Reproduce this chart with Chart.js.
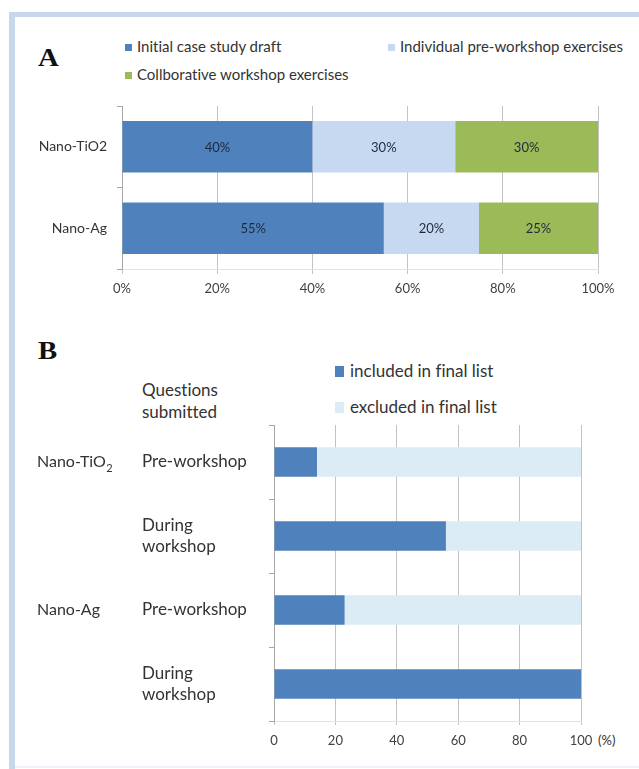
<!DOCTYPE html>
<html><head><meta charset="utf-8">
<script src="https://cdn.jsdelivr.net/npm/chart.js@4.4.1/dist/chart.umd.min.js"></script>
<style>
html,body{margin:0;padding:0;background:#fff;width:639px;height:769px;overflow:hidden;font-family:Lato,'Open Sans',sans-serif;font-variant-ligatures:none;}
.band{position:absolute;background:#c9d7ee;}
.letter{position:absolute;font-family:'Liberation Serif','DejaVu Serif',serif;font-weight:bold;font-size:25px;line-height:25px;color:#111;transform:scaleX(1.15);transform-origin:left top;}
.leg{position:absolute;color:#333;white-space:nowrap;}
.leg i{display:inline-block;vertical-align:middle;}
.legA{font-size:15px;line-height:18px;}
.legA i{width:7px;height:7px;margin-right:5px;margin-top:-2px;}
.legB{font-size:17px;line-height:20px;}
.legB i{width:9px;height:11px;margin-right:6px;margin-top:-2px;}
.txt{position:absolute;color:#333;white-space:nowrap;}
.box{position:absolute;left:0;width:639px;}
</style></head>
<body>
<div class="band" style="left:9px;top:12px;width:630px;height:5px;"></div>
<div class="band" style="left:9px;top:12px;width:6px;height:757px;"></div>
<div class="band" style="left:15px;top:766px;width:624px;height:2px;background:#eef2fa;"></div>

<div class="letter" style="left:38px;top:45px;">A</div>
<div class="letter" style="left:38px;top:338px;">B</div>

<div class="leg legA" style="left:125px;top:37px;"><i style="background:#4f81bd"></i>Initial case study draft</div>
<div class="leg legA" style="left:388px;top:37px;"><i style="background:#c6d9f0"></i>Individual pre-workshop exercises</div>
<div class="leg legA" style="left:125px;top:65px;"><i style="background:#9bbb59"></i>Collborative workshop exercises</div>

<div class="leg legB" style="left:335px;top:361px;"><i style="background:#4f81bd"></i>included in final list</div>
<div class="leg legB" style="left:335px;top:397px;"><i style="background:#dbecf4"></i>excluded in final list</div>

<div class="txt" style="left:142px;top:379px;font-size:17px;line-height:22px;">Questions<br>submitted</div>
<div class="txt" style="left:598px;top:732px;font-size:13px;line-height:16px;">(%)</div>

<div class="box" style="top:0;height:310px;"><canvas id="cA"></canvas></div>
<div class="box" style="top:310px;height:459px;"><canvas id="cB"></canvas></div>

<script>
// ---- Panel A data ----
const catsA = ['Nano-TiO2', 'Nano-Ag'];
const seriesA = ['Initial case study draft', 'Individual pre-workshop exercises', 'Collborative workshop exercises'];
const initialA = [40, 55];
const individualA = [30, 20];
const collabA = [30, 25];
const ticksA = ['0%', '20%', '40%', '60%', '80%', '100%'];

// ---- Panel B data ----
const catsB = [['Pre-workshop'], ['During', 'workshop'], ['Pre-workshop'], ['During', 'workshop']];
const groupsB = ['Nano-TiO₂', '', 'Nano-Ag', ''];
const seriesB = ['included in final list', 'excluded in final list'];
const includedB = [14, 56, 23, 100];
const excludedB = [86, 44, 77, 0];
const ticksB = ['0', '20', '40', '60', '80', '100'];

const FONT = "Lato, 'Open Sans', sans-serif";

const barLabels = {
  id: 'barLabels',
  afterDatasetsDraw(chart, args, opts) {
    if (!opts || !opts.show) return;
    const ctx = chart.ctx;
    ctx.save();
    ctx.font = '13px ' + FONT;
    ctx.fillStyle = '#1e2b3c';
    ctx.textAlign = 'center';
    ctx.textBaseline = 'middle';
    chart.data.datasets.forEach((ds, i) => {
      const meta = chart.getDatasetMeta(i);
      meta.data.forEach((el, j) => {
        const p = el.getProps(['x', 'y', 'base'], true);
        ctx.fillText(ds.data[j] + '%', (p.x + p.base) / 2, p.y + 1);
      });
    });
    ctx.restore();
  }
};

const groupLabels = {
  id: 'groupLabels',
  afterDraw(chart, args, opts) {
    if (!opts || !opts.labels) return;
    const ctx = chart.ctx;
    const ys = chart.scales.y;
    ctx.save();
    ctx.fillStyle = '#333';
    ctx.textBaseline = 'middle';
    ctx.textAlign = 'left';
    opts.labels.forEach((lab, i) => {
      if (!lab) return;
      const y = ys.getPixelForValue(i);
      let x = opts.x;
      if (lab.endsWith('₂')) {
        const base = lab.slice(0, -1);
        ctx.font = '16px ' + FONT;
        ctx.fillText(base, x, y);
        x += ctx.measureText(base).width;
        ctx.font = '11px ' + FONT;
        ctx.fillText('2', x + 0.5, y + 6);
      } else {
        ctx.font = '16px ' + FONT;
        ctx.fillText(lab, x, y);
      }
    });
    ctx.restore();
  }
};

const GRID = '#c2c2c2';

new Chart(document.getElementById('cA'), {
  type: 'bar',
  data: {
    labels: catsA,
    datasets: [
      { label: seriesA[0], data: initialA, backgroundColor: '#4f81bd' },
      { label: seriesA[1], data: individualA, backgroundColor: '#c6d9f0' },
      { label: seriesA[2], data: collabA, backgroundColor: '#9bbb59' }
    ]
  },
  options: {
    indexAxis: 'y',
    responsive: true,
    maintainAspectRatio: false,
    animation: false,
    layout: { padding: { top: 106, right: 41, left: 0, bottom: 0 } },
    datasets: { bar: { categoryPercentage: 1, barPercentage: 0.63, borderWidth: 0 } },
    plugins: { legend: { display: false }, tooltip: { enabled: false }, barLabels: { show: true } },
    scales: {
      x: {
        stacked: true, min: 0, max: 100,
        afterFit(s) { s.height = 41; },
        afterBuildTicks(s) { s.ticks = ticksA.map((t, i) => ({ value: i * 20 })); },
        ticks: { callback: (v, i) => ticksA[i], font: { size: 13, family: FONT }, color: '#404040', padding: 7, maxRotation: 0 },
        grid: { color: GRID, tickColor: GRID, tickLength: 5 },
        border: { color: '#e3e3e3' }
      },
      y: {
        stacked: true,
        afterFit(s) { s.width = 122; },
        ticks: { font: { size: 14, family: FONT }, color: '#333', padding: 10 },
        grid: { drawOnChartArea: false, offset: true, tickLength: 5, color: '#a6a6a6', tickColor: '#a6a6a6' },
        border: { color: '#a6a6a6' }
      }
    }
  },
  plugins: [barLabels]
});

new Chart(document.getElementById('cB'), {
  type: 'bar',
  data: {
    labels: catsB,
    datasets: [
      { label: seriesB[0], data: includedB, backgroundColor: '#4f81bd' },
      { label: seriesB[1], data: excludedB, backgroundColor: '#dbecf4' }
    ]
  },
  options: {
    indexAxis: 'y',
    responsive: true,
    maintainAspectRatio: false,
    animation: false,
    layout: { padding: { top: 115, right: 58, left: 142, bottom: 0 } },
    datasets: { bar: { categoryPercentage: 1, barPercentage: 0.4, borderWidth: 0 } },
    plugins: { legend: { display: false }, tooltip: { enabled: false }, groupLabels: { labels: groupsB, x: 37 } },
    scales: {
      x: {
        stacked: true, min: 0, max: 100,
        afterFit(s) { s.height = 48; },
        afterBuildTicks(s) { s.ticks = ticksB.map((t, i) => ({ value: i * 20 })); },
        ticks: { callback: (v, i) => ticksB[i], font: { size: 13, family: FONT }, color: '#404040', padding: 8, maxRotation: 0 },
        grid: { color: GRID, tickColor: GRID, tickLength: 4 },
        border: { color: '#e3e3e3' }
      },
      y: {
        stacked: true,
        afterFit(s) { s.width = 132; },
        ticks: { crossAlign: 'far', font: { size: 17, family: FONT, lineHeight: 1.25 }, color: '#333' },
        grid: { drawOnChartArea: false, offset: true, tickLength: 5, color: '#a6a6a6', tickColor: '#a6a6a6' },
        border: { color: '#a6a6a6' }
      }
    }
  },
  plugins: [groupLabels]
});
</script>
</body></html>
